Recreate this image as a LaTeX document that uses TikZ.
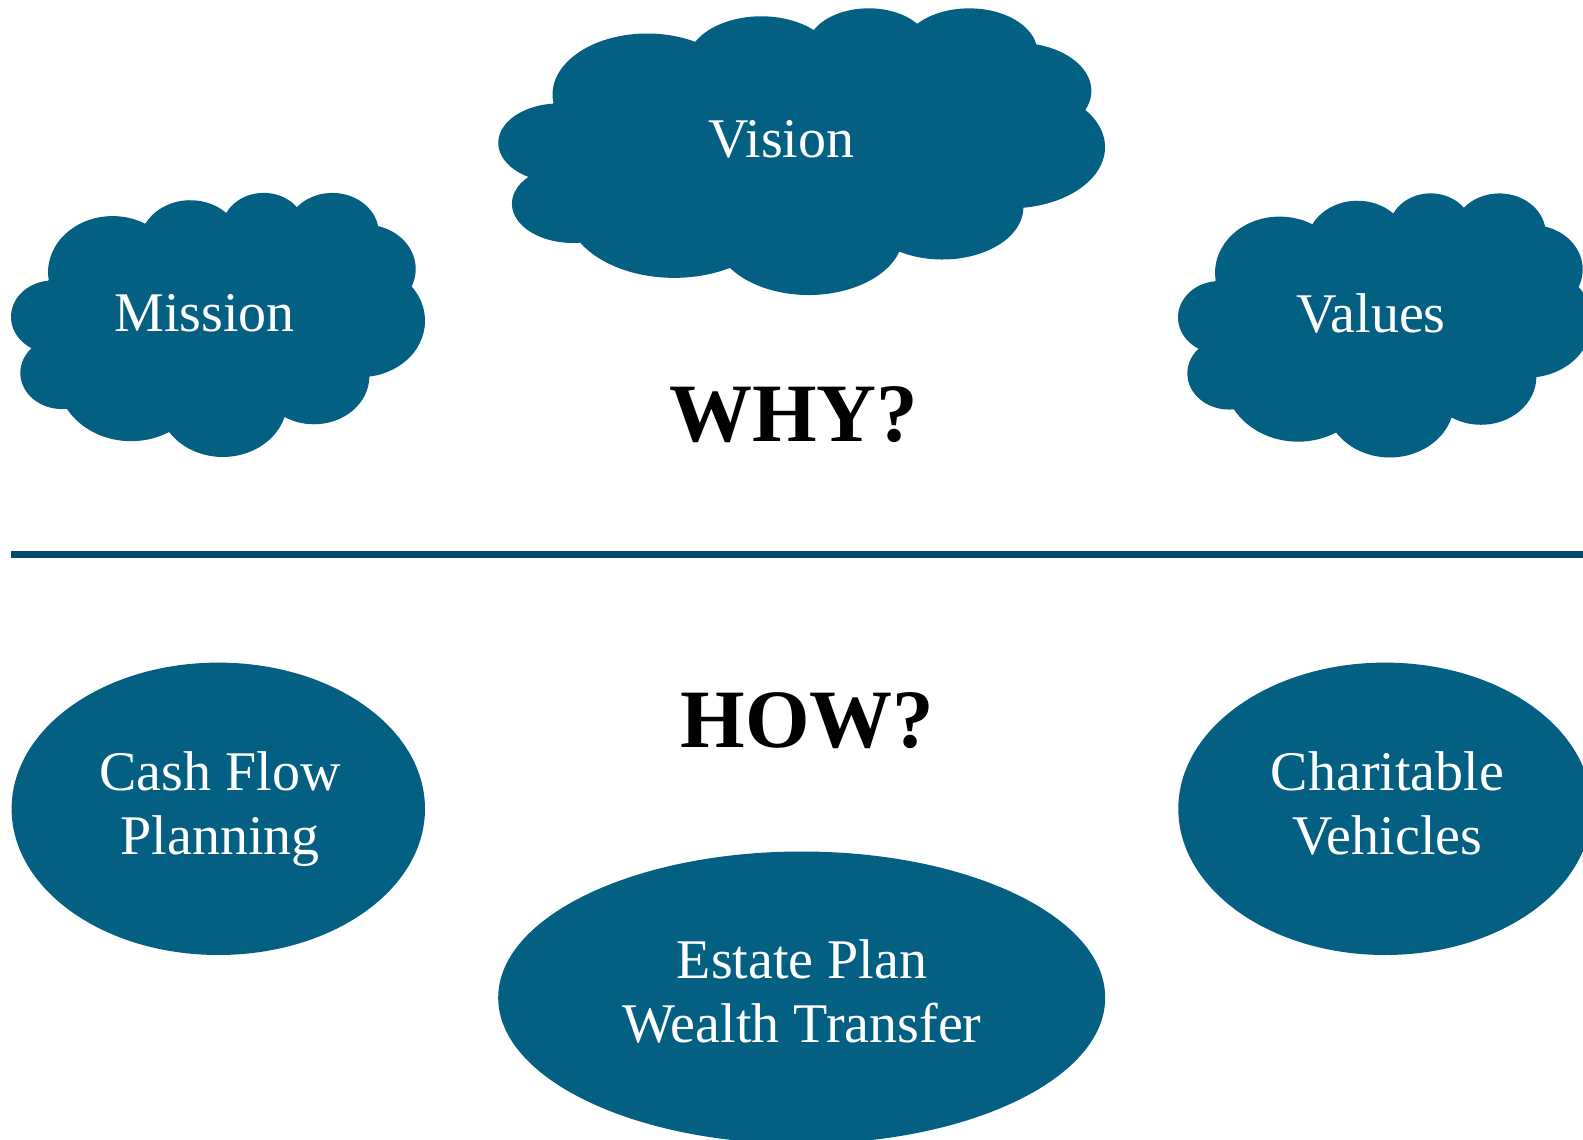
\documentclass[tikz,border=0pt]{standalone}
\usepackage{fontspec}
\setmainfont{Liberation Serif}
\usetikzlibrary{shapes.geometric}
\definecolor{cloudblue}{RGB}{3,96,131}
\definecolor{rulecolor}{RGB}{0,75,111}
\tikzset{
  blob/.style={fill=cloudblue, draw=none},
  blobellipse/.style={ellipse, blob, inner sep=0pt},
  whitetext/.style={text=white, inner sep=0pt,
    font=\fontsize{56}{64}\selectfont, align=center},
  bigq/.style={text=black, inner sep=0pt,
    font=\fontsize{83}{90}\selectfont\bfseries},
  rulestyle/.style={draw=rulecolor, line width=7pt},
  % eleven-arc cloud outline in a 432 x 432 box, y pointing down
  cloudshape/.pic={
    \fill[blob] (39.00,143.70)
      arc[start angle=-187.746, end angle=-59.630, x radius=67.53, y radius=91.90]
      arc[start angle=-152.036, end angle=-45.404, x radius=53.33, y radius=72.67]
      arc[start angle=-153.490, end angle=-37.342, x radius=43.65, y radius=59.45]
      arc[start angle=-139.717, end angle=-10.212, x radius=48.57, y radius=65.95]
      arc[start angle=-74.767,  end angle=23.205,  x radius=53.33, y radius=72.73]
      arc[start angle=-37.537,  end angle=81.862,  x radius=67.75, y radius=92.20]
      arc[start angle=0.460,    end angle=121.977, x radius=57.85, y radius=78.67]
      arc[start angle=16.844,   end angle=146.225, x radius=67.52, y radius=92.15]
      arc[start angle=58.986,   end angle=150.169, x radius=77.20, y radius=105.43]
      arc[start angle=-276.694, end angle=-136.929, x radius=43.60, y radius=59.18]
      arc[start angle=-239.643, end angle=-95.887, x radius=43.45, y radius=59.45]
      -- cycle;
  }
}
\begin{document}
\begin{tikzpicture}[x=1pt,y=-1pt]
\useasboundingbox (0,0) rectangle (1583,1140);
\fill[white] (0,0) rectangle (1583,1140);
\clip (0,0) rectangle (1583,1140);

% upper half: clouds
\path (11.3,192.0) pic[x=0.95718pt, y=-0.61111pt] {cloudshape};
\path (498.7,7.35) pic[x=1.40278pt, y=-0.66343pt] {cloudshape};
\path (1178.3,192.5) pic[x=0.95718pt, y=-0.61111pt] {cloudshape};

\node[whitetext, anchor=base] (vision)  at (781.4,157.3) {Vision};
\node[whitetext, anchor=base] (mission) at (204.5,331.5) {Mission};
\node[whitetext, anchor=base] (values)  at (1371,332.7) {Values};

\node[bigq, anchor=base] (why) at (793.5,441.7) {WHY?};

% divider
\coordinate (ruleL) at (11,554.3);
\coordinate (ruleR) at (1590,554.3);
\draw[rulestyle] (ruleL) -- (ruleR);

\node[bigq, anchor=base] (how) at (807.5,747.3) {HOW?};

% lower half: ellipses
\node[blobellipse, minimum width=413.4pt, minimum height=292.4pt] (cashshape) at (218.3,808.8) {};
\node[blobellipse, minimum width=413.4pt, minimum height=292.4pt] (charshape) at (1385,808.8) {};
\node[blobellipse, minimum width=607pt, minimum height=292.4pt] (estateshape) at (801.7,997.7) {};

% two-line labels: base anchor sits on the last line
\node[whitetext, anchor=base] (cash)   at (220,854) {Cash Flow\\Planning};
\node[whitetext, anchor=base] (char)   at (1387.5,854) {Charitable\\Vehicles};
\node[whitetext, anchor=base] (estate) at (802,1042.3) {Estate Plan\\Wealth Transfer};
\end{tikzpicture}
\end{document}
